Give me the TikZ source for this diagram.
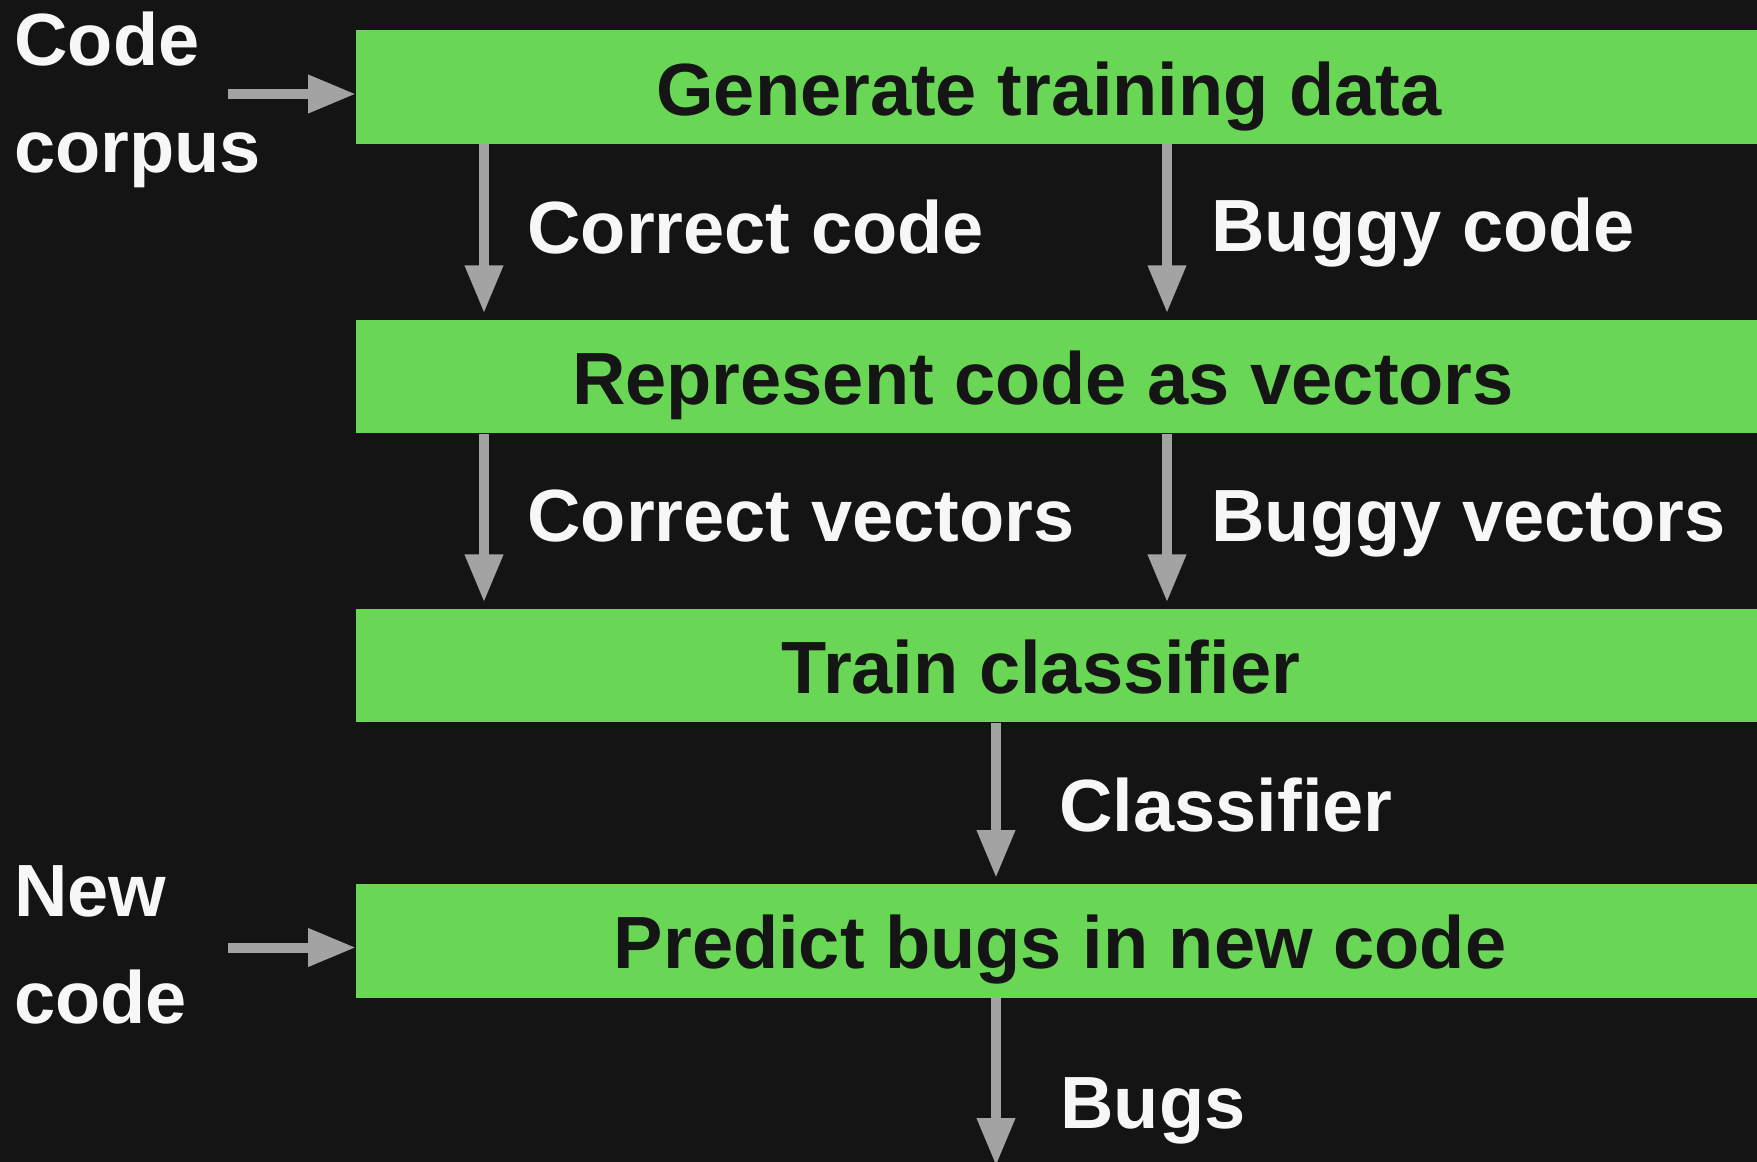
\documentclass[tikz,border=0pt]{standalone}
\usepackage{fontspec}
\setmainfont{Liberation Sans}
\usetikzlibrary{arrows.meta}
\definecolor{bg}{HTML}{141414}
\definecolor{boxgreen}{HTML}{69D755}
\definecolor{ink}{HTML}{151515}
\definecolor{paper}{HTML}{F7F7F7}
\definecolor{arrowgray}{HTML}{A3A3A3}
\begin{document}
\begin{tikzpicture}[x=0.5pt,y=-0.5pt,
  stagebox/.style={rectangle, fill=boxgreen, draw=none, inner sep=0pt,
    minimum width=720pt, minimum height=56.75pt, anchor=north west},
  boxtext/.style={text=ink, inner sep=0pt, anchor=base,
    font=\bfseries\fontsize{37}{44}\selectfont},
  lbl/.style={text=paper, inner sep=0pt, anchor=base west,
    font=\bfseries\fontsize{37}{53.5}\selectfont},
  arr/.style={draw=arrowgray, line width=5pt, -{Triangle[length=24pt,width=18pt]}},
  varr/.style={arr, shorten >=3pt}
]
\useasboundingbox (0,0) rectangle (1757,1162);
\fill[bg] (0,0) rectangle (1757,1162);
\clip (0,0) rectangle (1757,1162);

% stage boxes
\node[stagebox] (b1) at (356,30) {};
\node[stagebox] (b2) at (356,319.3) {};
\node[stagebox] (b3) at (356,608.4) {};
\node[stagebox] (b4) at (356,884) {};

% box texts
\node[boxtext] (t1) at (1049,115) {Generate training data};
\node[boxtext] (t2) at (1043,404) {Represent code as vectors};
\node[boxtext] (t3) at (1041,693) {Train classifier};
\node[boxtext] (t4) at (1060,968) {Predict bugs in new code};

% column coordinates
\coordinate (colA) at (484,0);
\coordinate (colB) at (1167,0);
\coordinate (colC) at (996,0);
\coordinate (in1) at (228,94);
\coordinate (in2) at (228,947.5);
\coordinate (out) at (996,1166);

% input arrows
\draw[arr] (in1) -- (b1.west |- in1);
\draw[arr] (in2) -- (b4.west |- in2);

% vertical arrows
\draw[varr] (b1.south -| colA) -- (b2.north -| colA);
\draw[varr] (b1.south -| colB) -- (b2.north -| colB);
\draw[varr] (b2.south -| colA) -- (b3.north -| colA);
\draw[varr] (b2.south -| colB) -- (b3.north -| colB);
\draw[varr] (b3.south -| colC) -- (b4.north -| colC);
\draw[arr] (b4.south -| colC) -- (out);

% labels (base anchor of a two-line node is the last line's baseline)
\node[lbl, align=left] (corpus) at (14,172) {Code\\corpus};
\node[lbl, align=left] (newcode) at (14,1023) {New\\code};
\node[lbl] (l1) at (527,253) {Correct code};
\node[lbl] (l2) at (1211,251) {Buggy code};
\node[lbl] (l3) at (527,541) {Correct vectors};
\node[lbl] (l4) at (1211,541) {Buggy vectors};
\node[lbl] (l5) at (1059,831) {Classifier};
\node[lbl] (l6) at (1060,1128) {Bugs};
\end{tikzpicture}
\end{document}
